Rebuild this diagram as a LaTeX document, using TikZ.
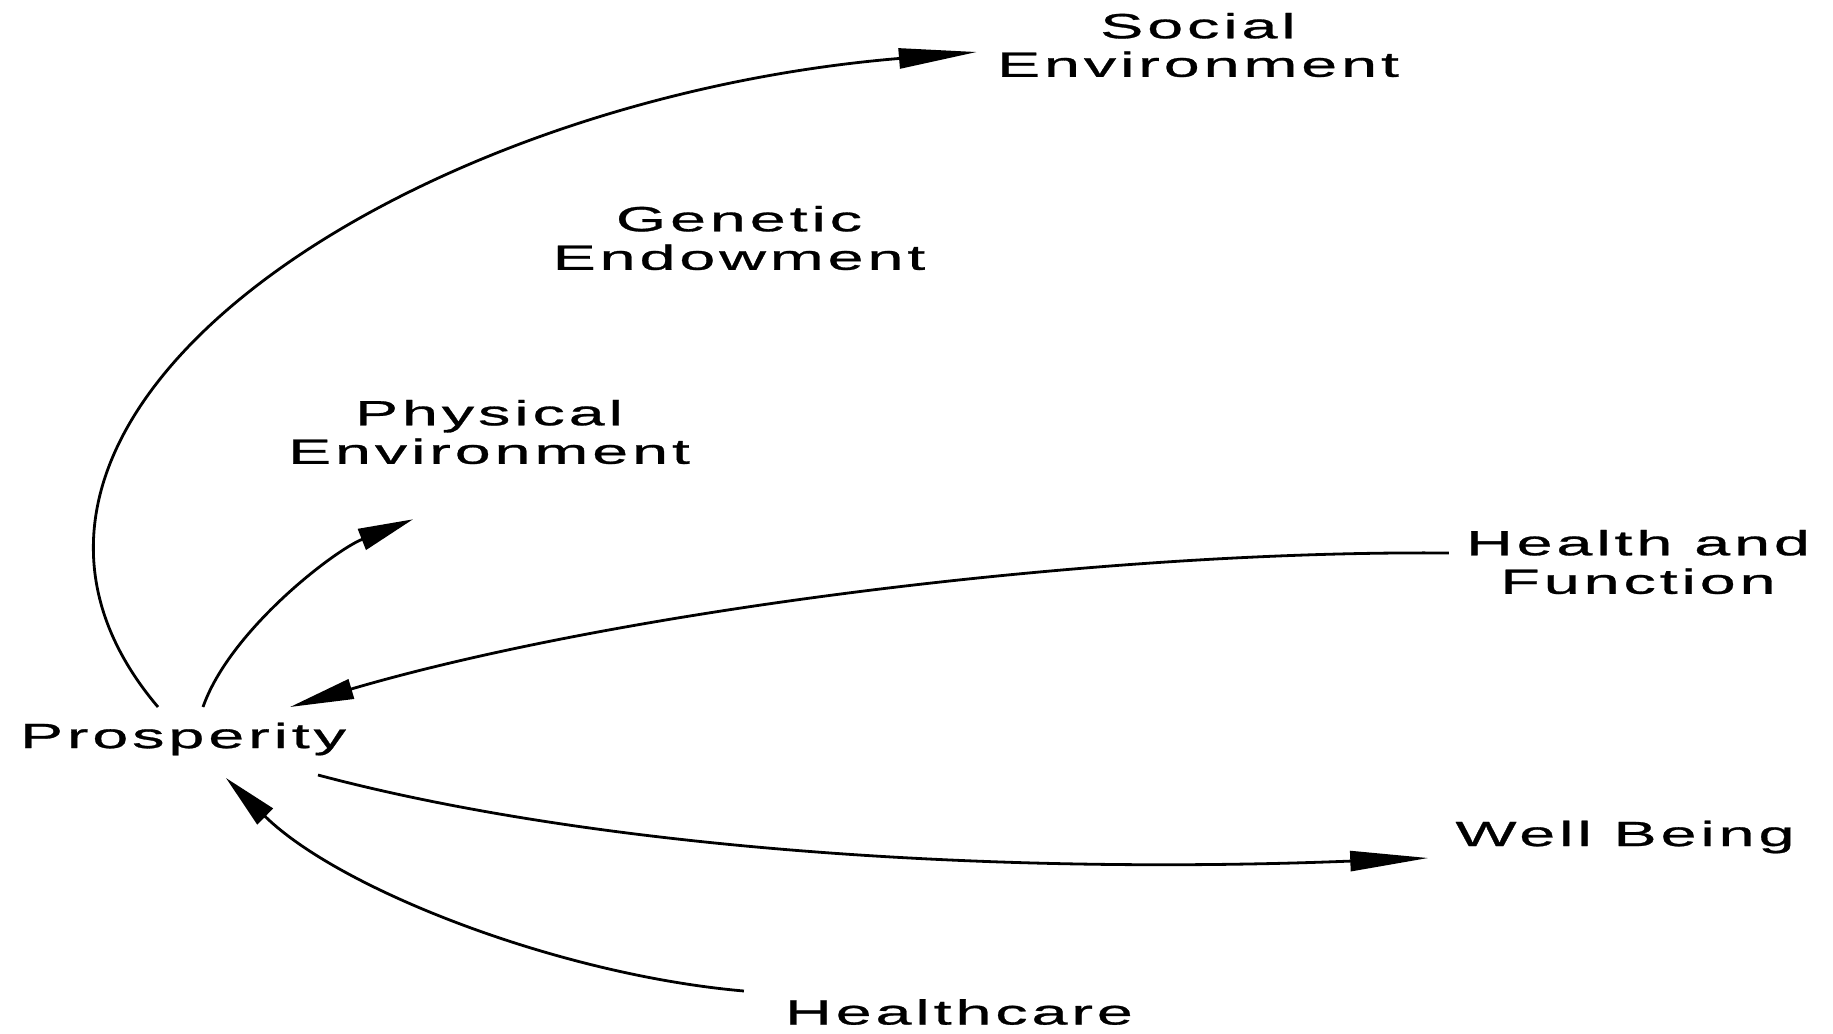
\documentclass[tikz,border=0pt]{standalone}
\usepackage{fontspec}
\usetikzlibrary{arrows.meta}
\newfontfamily\labfont[FakeStretch=1.85,LetterSpace=11,FakeBold=0.8]{Liberation Sans}
\begin{document}
\begin{tikzpicture}[x=1pt,y=-1pt,
  lab/.style={inner sep=0pt,align=center,text=black,
    font=\labfont\fontsize{35}{38.5}\selectfont},
  link/.style={line width=2.8pt,black},
  longtip/.style={-{Triangle[length=78pt,width=20pt]}},
  shorttip/.style={-{Triangle[length=55pt,width=22pt]}}]
\useasboundingbox (0,0) rectangle (1833,1033);
\fill[white] (0,0) rectangle (1833,1033);
\node[lab] (soc) at (1198,45) {Social\\Environment};
\node[lab] (gen) at (739,238) {Genetic\\Endowment};
\node[lab] (phy) at (489,432) {Physical\\Environment};
\node[lab] (hf) at (1638,562) {Health and\\Function};
\node[lab] (pro) at (183,739) {Prosperity};
\node[lab] (wb) at (1625,837) {Well Being};
\node[lab] (hc) at (959,1012) {Healthcare};
% Prosperity -> Social Environment
\draw[link,longtip] ([xshift=-25pt,yshift=32pt]pro.center)
  .. controls (-85,420) and (400,100) .. ([xshift=-20pt,yshift=-7pt]soc.west);
% Prosperity -> Physical Environment
\draw[link,shorttip] ([xshift=20pt,yshift=32pt]pro.center)
  .. controls (230,630) and (335,550) .. ([xshift=-76pt,yshift=-55pt]phy.south);
% Health and Function -> Prosperity
\draw[link,-{Triangle[length=64pt,width=20pt]}] ([xshift=-17pt,yshift=9pt]hf.west)
  .. controls (1100,550) and (620,610) .. ([xshift=107pt,yshift=32pt]pro.center);
% Prosperity -> Well Being
\draw[link,longtip] ([xshift=135pt,yshift=-36pt]pro.center)
  .. controls (600,850) and (1000,875) .. ([xshift=-27pt,yshift=-21pt]wb.west);
% Healthcare -> Prosperity
\draw[link,shorttip] ([xshift=-41pt,yshift=21pt]hc.west)
  .. controls (560,975) and (340,890) .. ([xshift=43pt,yshift=-39pt]pro.center);
\end{tikzpicture}
\end{document}
